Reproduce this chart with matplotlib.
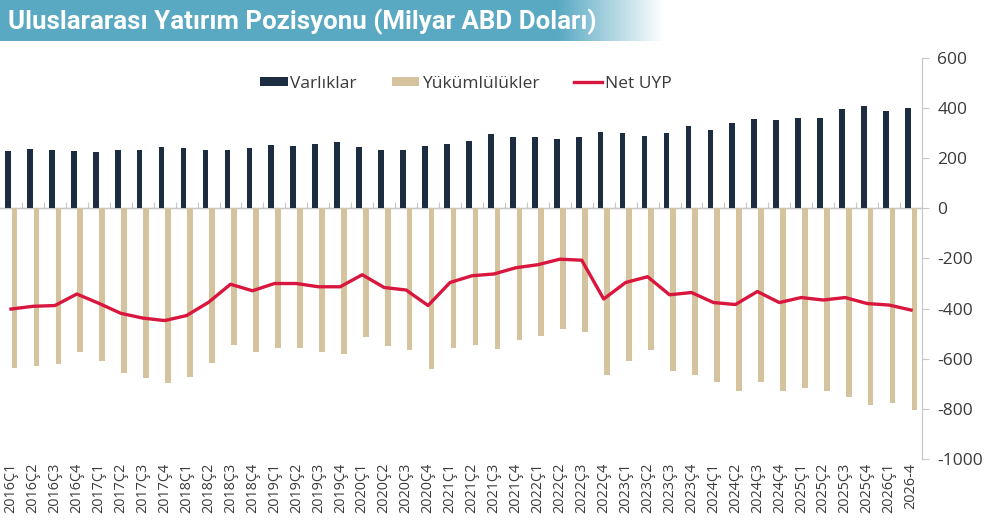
import numpy as np
import matplotlib.pyplot as plt
from matplotlib.colors import to_rgb

plt.rcParams['font.family'] = ['Open Sans', 'DejaVu Sans']
plt.rcParams['axes.unicode_minus'] = False

# Etiketler
quarters = [f"{y}Ç{q}" for y in range(2016, 2026) for q in range(1, 5)] + ["2026Ç1", "2026-4"]

# Varlıklar (milyar ABD doları)
varliklar = [230, 238, 233, 230, 227, 234, 234, 245, 242, 234,
             234, 242, 252, 250, 258, 264, 245, 234, 234, 250,
             255, 270, 296, 283, 283, 276, 284, 304, 302, 290,
             299, 330, 314, 340, 358, 351, 360, 360, 397, 407,
             390, 400]

# Yükümlülükler
yukumlulukler = [-636, -630, -622, -574, -608, -657, -676, -696, -673, -617,
                 -544, -574, -558, -556, -575, -581, -513, -550, -566, -642,
                 -557, -544, -562, -527, -511, -480, -495, -665, -608, -566,
                 -651, -665, -694, -730, -692, -729, -716, -729, -754, -787,
                 -778, -807]

# Net UYP
net_uyp = [-402, -391, -388, -342, -379, -419, -438, -448, -428, -375,
           -303, -329, -300, -300, -313, -313, -265, -316, -326, -388,
           -296, -269, -262, -237, -225, -203, -207, -362, -296, -273,
           -345, -336, -376, -384, -332, -376, -356, -366, -356, -380,
           -386, -406]

c_dark = '#1c2d42'
c_tan = '#d5c39e'
c_red = '#d9163d'
c_grid = '#c8c8c8'
c_text = '#3a3a3a'

fig = plt.figure(figsize=(9.9, 5.28), dpi=100)
ax = fig.add_axes([0.0, 0.131, 922 / 990, 0.759])

x = np.arange(len(quarters))
w = 0.26
b1 = ax.bar(x - 0.14, varliklar, width=w, color=c_dark, label='Varlıklar', zorder=2)
b2 = ax.bar(x + 0.16, yukumlulukler, width=w, color=c_tan, label='Yükümlülükler', zorder=2)
l1, = ax.plot(x, net_uyp, color=c_red, lw=2.4, label='Net UYP', zorder=3, solid_joinstyle='round')

ax.set_xlim(-0.5, len(quarters) - 0.5)
ax.set_ylim(-1000, 600)
ax.set_yticks(np.arange(-1000, 601, 200))
ax.yaxis.tick_right()
ax.tick_params(axis='y', direction='out', length=5, color=c_grid, labelsize=12.5,
               labelcolor=c_text, pad=6)

ax.set_xticks(x)
ax.set_xticklabels(quarters, rotation=90, fontsize=10.4, color=c_text)
ax.tick_params(axis='x', length=0, pad=3)

for s in ['top', 'left', 'bottom']:
    ax.spines[s].set_visible(False)
ax.spines['right'].set_color(c_grid)
ax.spines['right'].set_linewidth(0.9)

# Sıfır çizgisi ve küçük işaretler
ax.axhline(0, color=c_grid, lw=0.8, zorder=1)
sec = ax.secondary_xaxis(1000 / 1600)
sec.set_xticks(x[:-1] + 0.5)
sec.set_xticklabels([])
sec.tick_params(direction='out', length=4, color=c_grid, width=0.8)
sec.spines['bottom'].set_visible(False)

leg = ax.legend([b1, b2, l1], ['Varlıklar', 'Yükümlülükler', 'Net UYP'],
                loc='upper center', bbox_to_anchor=(0.505, 0.995), ncol=3, frameon=False,
                fontsize=12.5, handlelength=1.6, handleheight=0.45, handletextpad=0.15,
                columnspacing=2.0)
for t in leg.get_texts():
    t.set_color(c_text)

# Başlık şeridi (degrade)
tax = fig.add_axes([0.0, 1 - 41 / 528, 665 / 990, 41 / 528])
n = 400
grad = np.ones((1, n, 3))
base = np.array(to_rgb('#5aa9c3'))
pos = np.linspace(0, 1, n)
fade = np.clip((pos - 0.84) / 0.16, 0, 1)
grad[0] = base * (1 - fade[:, None]) + np.ones(3) * fade[:, None]
tax.imshow(grad, aspect='auto', extent=(0, 1, 0, 1))
tax.set_xlim(0, 1)
tax.set_ylim(0, 1)
tax.axis('off')
tax.text(0.012, 0.47, 'Uluslararası Yatırım Pozisyonu (Milyar ABD Doları)', color='white',
         fontsize=18.6, fontweight='bold', va='center', ha='left',
         family=['Roboto', 'DejaVu Sans'])

fig.savefig('out.png', dpi=100)
